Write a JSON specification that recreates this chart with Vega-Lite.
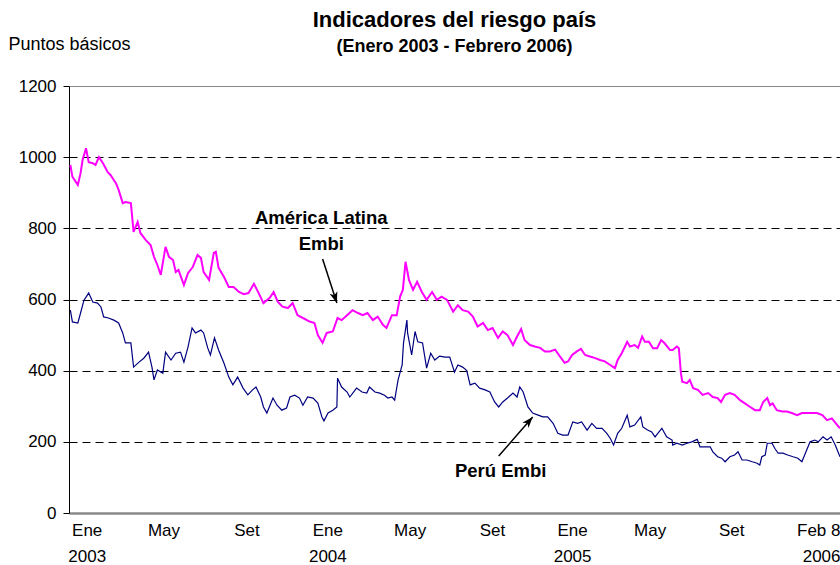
{
  "$schema": "https://vega.github.io/schema/vega-lite/v6.json",
  "width": 771,
  "height": 427,
  "autosize": {"type": "none"},
  "padding": {"left": 69, "top": 86, "right": 0, "bottom": 52},
  "background": "white",
  "config": {
    "view": {"stroke": null},
    "font": "Liberation Sans",
    "axis": {"labelFont": "Liberation Sans", "labelFontSize": 17, "labelColor": "black", "titleFont": "Liberation Sans"}
  },
  "title": {
    "text": "Indicadores del riesgo país",
    "subtitle": "(Enero 2003 - Febrero 2006)",
    "anchor": "middle",
    "font": "Liberation Sans",
    "fontSize": 22,
    "fontWeight": "bold",
    "color": "black",
    "subtitleFont": "Liberation Sans",
    "subtitleFontSize": 18,
    "subtitleFontWeight": "bold",
    "subtitleColor": "black",
    "subtitlePadding": 6,
    "offset": -22
  },
  "datasets": {
    "latam": [
      {"fecha": "2003-01-03", "pb": 978}, {"fecha": "2003-01-06", "pb": 945}, {"fecha": "2003-01-14", "pb": 922},
      {"fecha": "2003-01-18", "pb": 955}, {"fecha": "2003-01-21", "pb": 992}, {"fecha": "2003-01-26", "pb": 1025},
      {"fecha": "2003-01-30", "pb": 986}, {"fecha": "2003-02-05", "pb": 983}, {"fecha": "2003-02-09", "pb": 978},
      {"fecha": "2003-02-14", "pb": 1000}, {"fecha": "2003-02-20", "pb": 983}, {"fecha": "2003-02-27", "pb": 958},
      {"fecha": "2003-03-03", "pb": 950}, {"fecha": "2003-03-11", "pb": 927}, {"fecha": "2003-03-15", "pb": 908},
      {"fecha": "2003-03-21", "pb": 871}, {"fecha": "2003-03-25", "pb": 874}, {"fecha": "2003-04-02", "pb": 871},
      {"fecha": "2003-04-06", "pb": 790}, {"fecha": "2003-04-12", "pb": 818}, {"fecha": "2003-04-16", "pb": 787},
      {"fecha": "2003-04-24", "pb": 767}, {"fecha": "2003-05-01", "pb": 753}, {"fecha": "2003-05-06", "pb": 720},
      {"fecha": "2003-05-11", "pb": 697}, {"fecha": "2003-05-16", "pb": 669}, {"fecha": "2003-05-23", "pb": 748},
      {"fecha": "2003-05-28", "pb": 720}, {"fecha": "2003-06-03", "pb": 711}, {"fecha": "2003-06-07", "pb": 677},
      {"fecha": "2003-06-11", "pb": 683}, {"fecha": "2003-06-19", "pb": 641}, {"fecha": "2003-06-25", "pb": 674},
      {"fecha": "2003-07-02", "pb": 691}, {"fecha": "2003-07-09", "pb": 725}, {"fecha": "2003-07-14", "pb": 717},
      {"fecha": "2003-07-18", "pb": 677}, {"fecha": "2003-07-26", "pb": 655}, {"fecha": "2003-08-02", "pb": 731},
      {"fecha": "2003-08-05", "pb": 734}, {"fecha": "2003-08-09", "pb": 689}, {"fecha": "2003-08-17", "pb": 663},
      {"fecha": "2003-08-24", "pb": 635}, {"fecha": "2003-08-31", "pb": 635}, {"fecha": "2003-09-08", "pb": 621},
      {"fecha": "2003-09-15", "pb": 615}, {"fecha": "2003-09-22", "pb": 618}, {"fecha": "2003-09-30", "pb": 644},
      {"fecha": "2003-10-07", "pb": 618}, {"fecha": "2003-10-14", "pb": 590}, {"fecha": "2003-10-23", "pb": 604},
      {"fecha": "2003-10-29", "pb": 621}, {"fecha": "2003-11-04", "pb": 594}, {"fecha": "2003-11-11", "pb": 580},
      {"fecha": "2003-11-19", "pb": 576}, {"fecha": "2003-11-26", "pb": 590}, {"fecha": "2003-12-03", "pb": 556},
      {"fecha": "2003-12-11", "pb": 548}, {"fecha": "2003-12-21", "pb": 538}, {"fecha": "2003-12-28", "pb": 534},
      {"fecha": "2004-01-02", "pb": 500}, {"fecha": "2004-01-09", "pb": 478}, {"fecha": "2004-01-15", "pb": 506},
      {"fecha": "2004-01-24", "pb": 510}, {"fecha": "2004-01-31", "pb": 548}, {"fecha": "2004-02-06", "pb": 542},
      {"fecha": "2004-02-14", "pb": 556}, {"fecha": "2004-02-22", "pb": 570}, {"fecha": "2004-03-01", "pb": 562},
      {"fecha": "2004-03-08", "pb": 556}, {"fecha": "2004-03-15", "pb": 562}, {"fecha": "2004-03-23", "pb": 542},
      {"fecha": "2004-03-30", "pb": 552}, {"fecha": "2004-04-07", "pb": 528}, {"fecha": "2004-04-12", "pb": 520},
      {"fecha": "2004-04-20", "pb": 556}, {"fecha": "2004-04-27", "pb": 556}, {"fecha": "2004-05-02", "pb": 608},
      {"fecha": "2004-05-06", "pb": 627}, {"fecha": "2004-05-10", "pb": 706}, {"fecha": "2004-05-15", "pb": 655},
      {"fecha": "2004-05-21", "pb": 627}, {"fecha": "2004-05-27", "pb": 650}, {"fecha": "2004-06-03", "pb": 621},
      {"fecha": "2004-06-10", "pb": 599}, {"fecha": "2004-06-18", "pb": 621}, {"fecha": "2004-06-25", "pb": 599},
      {"fecha": "2004-07-02", "pb": 608}, {"fecha": "2004-07-10", "pb": 599}, {"fecha": "2004-07-19", "pb": 566},
      {"fecha": "2004-07-26", "pb": 584}, {"fecha": "2004-08-02", "pb": 570}, {"fecha": "2004-08-10", "pb": 566},
      {"fecha": "2004-08-17", "pb": 552}, {"fecha": "2004-08-24", "pb": 524}, {"fecha": "2004-09-01", "pb": 534},
      {"fecha": "2004-09-08", "pb": 514}, {"fecha": "2004-09-15", "pb": 520}, {"fecha": "2004-09-23", "pb": 492},
      {"fecha": "2004-09-30", "pb": 510}, {"fecha": "2004-10-07", "pb": 500}, {"fecha": "2004-10-15", "pb": 472},
      {"fecha": "2004-10-21", "pb": 496}, {"fecha": "2004-10-27", "pb": 517}, {"fecha": "2004-11-01", "pb": 486},
      {"fecha": "2004-11-09", "pb": 472}, {"fecha": "2004-11-16", "pb": 468}, {"fecha": "2004-11-24", "pb": 464},
      {"fecha": "2004-12-01", "pb": 454}, {"fecha": "2004-12-08", "pb": 454}, {"fecha": "2004-12-16", "pb": 459},
      {"fecha": "2004-12-23", "pb": 440}, {"fecha": "2004-12-30", "pb": 422}, {"fecha": "2005-01-04", "pb": 426},
      {"fecha": "2005-01-10", "pb": 444}, {"fecha": "2005-01-17", "pb": 454}, {"fecha": "2005-01-23", "pb": 461},
      {"fecha": "2005-01-29", "pb": 444}, {"fecha": "2005-02-05", "pb": 440}, {"fecha": "2005-02-12", "pb": 436},
      {"fecha": "2005-02-20", "pb": 430}, {"fecha": "2005-02-27", "pb": 426}, {"fecha": "2005-03-07", "pb": 416},
      {"fecha": "2005-03-14", "pb": 407}, {"fecha": "2005-03-18", "pb": 430}, {"fecha": "2005-03-24", "pb": 449},
      {"fecha": "2005-04-01", "pb": 481}, {"fecha": "2005-04-05", "pb": 468}, {"fecha": "2005-04-12", "pb": 472},
      {"fecha": "2005-04-17", "pb": 464}, {"fecha": "2005-04-23", "pb": 496}, {"fecha": "2005-04-27", "pb": 481},
      {"fecha": "2005-05-03", "pb": 481}, {"fecha": "2005-05-09", "pb": 463}, {"fecha": "2005-05-15", "pb": 463},
      {"fecha": "2005-05-21", "pb": 486}, {"fecha": "2005-05-26", "pb": 477}, {"fecha": "2005-06-03", "pb": 458},
      {"fecha": "2005-06-07", "pb": 458}, {"fecha": "2005-06-13", "pb": 468}, {"fecha": "2005-06-16", "pb": 463},
      {"fecha": "2005-06-19", "pb": 393}, {"fecha": "2005-06-21", "pb": 369}, {"fecha": "2005-06-28", "pb": 365},
      {"fecha": "2005-07-02", "pb": 374}, {"fecha": "2005-07-07", "pb": 351}, {"fecha": "2005-07-14", "pb": 346},
      {"fecha": "2005-07-21", "pb": 332}, {"fecha": "2005-07-29", "pb": 337}, {"fecha": "2005-08-05", "pb": 326},
      {"fecha": "2005-08-12", "pb": 323}, {"fecha": "2005-08-17", "pb": 312}, {"fecha": "2005-08-23", "pb": 332},
      {"fecha": "2005-08-30", "pb": 337}, {"fecha": "2005-09-06", "pb": 332}, {"fecha": "2005-09-14", "pb": 317},
      {"fecha": "2005-09-21", "pb": 308}, {"fecha": "2005-09-29", "pb": 298}, {"fecha": "2005-10-06", "pb": 289},
      {"fecha": "2005-10-13", "pb": 289}, {"fecha": "2005-10-18", "pb": 312}, {"fecha": "2005-10-24", "pb": 323},
      {"fecha": "2005-10-28", "pb": 303}, {"fecha": "2005-11-01", "pb": 308}, {"fecha": "2005-11-07", "pb": 289},
      {"fecha": "2005-11-15", "pb": 285}, {"fecha": "2005-11-22", "pb": 285}, {"fecha": "2005-11-29", "pb": 281},
      {"fecha": "2005-12-07", "pb": 275}, {"fecha": "2005-12-14", "pb": 281}, {"fecha": "2005-12-21", "pb": 281},
      {"fecha": "2005-12-29", "pb": 281}, {"fecha": "2006-01-05", "pb": 281}, {"fecha": "2006-01-13", "pb": 275},
      {"fecha": "2006-01-20", "pb": 261}, {"fecha": "2006-01-27", "pb": 266}, {"fecha": "2006-02-04", "pb": 247},
      {"fecha": "2006-02-08", "pb": 238}
    ],
    "peru": [
      {"fecha": "2003-01-03", "pb": 570}, {"fecha": "2003-01-06", "pb": 537}, {"fecha": "2003-01-14", "pb": 534},
      {"fecha": "2003-01-18", "pb": 562}, {"fecha": "2003-01-23", "pb": 598}, {"fecha": "2003-01-30", "pb": 618},
      {"fecha": "2003-02-05", "pb": 593}, {"fecha": "2003-02-12", "pb": 590}, {"fecha": "2003-02-17", "pb": 579},
      {"fecha": "2003-02-21", "pb": 551}, {"fecha": "2003-02-28", "pb": 548}, {"fecha": "2003-03-08", "pb": 542},
      {"fecha": "2003-03-15", "pb": 534}, {"fecha": "2003-03-21", "pb": 506}, {"fecha": "2003-03-25", "pb": 478},
      {"fecha": "2003-04-02", "pb": 478}, {"fecha": "2003-04-06", "pb": 410}, {"fecha": "2003-04-14", "pb": 424},
      {"fecha": "2003-04-21", "pb": 435}, {"fecha": "2003-04-28", "pb": 452}, {"fecha": "2003-05-03", "pb": 410},
      {"fecha": "2003-05-06", "pb": 374}, {"fecha": "2003-05-11", "pb": 402}, {"fecha": "2003-05-19", "pb": 393},
      {"fecha": "2003-05-23", "pb": 452}, {"fecha": "2003-05-31", "pb": 430}, {"fecha": "2003-06-07", "pb": 449},
      {"fecha": "2003-06-14", "pb": 452}, {"fecha": "2003-06-19", "pb": 424}, {"fecha": "2003-06-25", "pb": 466},
      {"fecha": "2003-07-01", "pb": 520}, {"fecha": "2003-07-06", "pb": 506}, {"fecha": "2003-07-14", "pb": 514},
      {"fecha": "2003-07-18", "pb": 506}, {"fecha": "2003-07-24", "pb": 464}, {"fecha": "2003-07-28", "pb": 444},
      {"fecha": "2003-08-03", "pb": 492}, {"fecha": "2003-08-09", "pb": 458}, {"fecha": "2003-08-17", "pb": 421},
      {"fecha": "2003-08-24", "pb": 382}, {"fecha": "2003-08-30", "pb": 360}, {"fecha": "2003-09-06", "pb": 382},
      {"fecha": "2003-09-14", "pb": 351}, {"fecha": "2003-09-21", "pb": 332}, {"fecha": "2003-09-28", "pb": 346},
      {"fecha": "2003-10-03", "pb": 354}, {"fecha": "2003-10-10", "pb": 326}, {"fecha": "2003-10-14", "pb": 298},
      {"fecha": "2003-10-19", "pb": 281}, {"fecha": "2003-10-28", "pb": 323}, {"fecha": "2003-11-03", "pb": 303},
      {"fecha": "2003-11-10", "pb": 289}, {"fecha": "2003-11-17", "pb": 295}, {"fecha": "2003-11-22", "pb": 326},
      {"fecha": "2003-11-29", "pb": 331}, {"fecha": "2003-12-06", "pb": 323}, {"fecha": "2003-12-11", "pb": 303},
      {"fecha": "2003-12-18", "pb": 326}, {"fecha": "2003-12-26", "pb": 323}, {"fecha": "2004-01-02", "pb": 309},
      {"fecha": "2004-01-08", "pb": 270}, {"fecha": "2004-01-11", "pb": 259}, {"fecha": "2004-01-17", "pb": 281},
      {"fecha": "2004-01-24", "pb": 289}, {"fecha": "2004-01-30", "pb": 298}, {"fecha": "2004-01-31", "pb": 379},
      {"fecha": "2004-02-06", "pb": 354}, {"fecha": "2004-02-14", "pb": 340}, {"fecha": "2004-02-18", "pb": 326},
      {"fecha": "2004-02-28", "pb": 351}, {"fecha": "2004-03-07", "pb": 340}, {"fecha": "2004-03-14", "pb": 337},
      {"fecha": "2004-03-18", "pb": 354}, {"fecha": "2004-03-26", "pb": 340}, {"fecha": "2004-04-02", "pb": 337},
      {"fecha": "2004-04-09", "pb": 331}, {"fecha": "2004-04-14", "pb": 323}, {"fecha": "2004-04-20", "pb": 326},
      {"fecha": "2004-04-24", "pb": 317}, {"fecha": "2004-04-29", "pb": 374}, {"fecha": "2004-05-05", "pb": 416},
      {"fecha": "2004-05-07", "pb": 478}, {"fecha": "2004-05-12", "pb": 542}, {"fecha": "2004-05-13", "pb": 506},
      {"fecha": "2004-05-19", "pb": 444}, {"fecha": "2004-05-24", "pb": 510}, {"fecha": "2004-05-28", "pb": 481},
      {"fecha": "2004-06-04", "pb": 478}, {"fecha": "2004-06-10", "pb": 407}, {"fecha": "2004-06-16", "pb": 449},
      {"fecha": "2004-06-22", "pb": 430}, {"fecha": "2004-06-29", "pb": 441}, {"fecha": "2004-07-07", "pb": 438},
      {"fecha": "2004-07-14", "pb": 438}, {"fecha": "2004-07-21", "pb": 396}, {"fecha": "2004-07-26", "pb": 416},
      {"fecha": "2004-08-02", "pb": 410}, {"fecha": "2004-08-08", "pb": 400}, {"fecha": "2004-08-13", "pb": 360},
      {"fecha": "2004-08-20", "pb": 365}, {"fecha": "2004-08-27", "pb": 351}, {"fecha": "2004-09-04", "pb": 346},
      {"fecha": "2004-09-11", "pb": 340}, {"fecha": "2004-09-18", "pb": 312}, {"fecha": "2004-09-24", "pb": 298},
      {"fecha": "2004-09-30", "pb": 312}, {"fecha": "2004-10-07", "pb": 323}, {"fecha": "2004-10-15", "pb": 337},
      {"fecha": "2004-10-21", "pb": 326}, {"fecha": "2004-10-25", "pb": 354}, {"fecha": "2004-10-30", "pb": 340},
      {"fecha": "2004-11-06", "pb": 298}, {"fecha": "2004-11-13", "pb": 281}, {"fecha": "2004-11-21", "pb": 275},
      {"fecha": "2004-11-28", "pb": 270}, {"fecha": "2004-12-05", "pb": 270}, {"fecha": "2004-12-13", "pb": 252},
      {"fecha": "2004-12-20", "pb": 224}, {"fecha": "2004-12-27", "pb": 219}, {"fecha": "2005-01-04", "pb": 219},
      {"fecha": "2005-01-11", "pb": 256}, {"fecha": "2005-01-18", "pb": 252}, {"fecha": "2005-01-24", "pb": 256},
      {"fecha": "2005-02-01", "pb": 233}, {"fecha": "2005-02-08", "pb": 252}, {"fecha": "2005-02-15", "pb": 238},
      {"fecha": "2005-02-23", "pb": 238}, {"fecha": "2005-03-02", "pb": 224}, {"fecha": "2005-03-07", "pb": 210},
      {"fecha": "2005-03-12", "pb": 191}, {"fecha": "2005-03-18", "pb": 224}, {"fecha": "2005-03-24", "pb": 238},
      {"fecha": "2005-04-01", "pb": 275}, {"fecha": "2005-04-05", "pb": 242}, {"fecha": "2005-04-12", "pb": 247},
      {"fecha": "2005-04-21", "pb": 270}, {"fecha": "2005-04-24", "pb": 242}, {"fecha": "2005-05-01", "pb": 233},
      {"fecha": "2005-05-07", "pb": 228}, {"fecha": "2005-05-12", "pb": 214}, {"fecha": "2005-05-16", "pb": 224},
      {"fecha": "2005-05-22", "pb": 238}, {"fecha": "2005-05-29", "pb": 214}, {"fecha": "2005-06-06", "pb": 205},
      {"fecha": "2005-06-07", "pb": 191}, {"fecha": "2005-06-13", "pb": 196}, {"fecha": "2005-06-21", "pb": 191},
      {"fecha": "2005-06-28", "pb": 196}, {"fecha": "2005-07-05", "pb": 200}, {"fecha": "2005-07-13", "pb": 207},
      {"fecha": "2005-07-17", "pb": 186}, {"fecha": "2005-07-24", "pb": 186}, {"fecha": "2005-08-01", "pb": 186},
      {"fecha": "2005-08-05", "pb": 172}, {"fecha": "2005-08-12", "pb": 158}, {"fecha": "2005-08-18", "pb": 154},
      {"fecha": "2005-08-23", "pb": 144}, {"fecha": "2005-08-30", "pb": 158}, {"fecha": "2005-09-06", "pb": 163},
      {"fecha": "2005-09-11", "pb": 172}, {"fecha": "2005-09-17", "pb": 149}, {"fecha": "2005-09-24", "pb": 149},
      {"fecha": "2005-10-02", "pb": 144}, {"fecha": "2005-10-09", "pb": 140}, {"fecha": "2005-10-13", "pb": 135},
      {"fecha": "2005-10-16", "pb": 158}, {"fecha": "2005-10-21", "pb": 163}, {"fecha": "2005-10-24", "pb": 196},
      {"fecha": "2005-10-31", "pb": 196}, {"fecha": "2005-11-04", "pb": 182}, {"fecha": "2005-11-09", "pb": 168},
      {"fecha": "2005-11-16", "pb": 168}, {"fecha": "2005-11-23", "pb": 163}, {"fecha": "2005-12-01", "pb": 158},
      {"fecha": "2005-12-08", "pb": 154}, {"fecha": "2005-12-14", "pb": 144}, {"fecha": "2005-12-18", "pb": 163},
      {"fecha": "2005-12-26", "pb": 200}, {"fecha": "2006-01-02", "pb": 205}, {"fecha": "2006-01-07", "pb": 200},
      {"fecha": "2006-01-14", "pb": 214}, {"fecha": "2006-01-20", "pb": 205}, {"fecha": "2006-01-26", "pb": 214},
      {"fecha": "2006-02-01", "pb": 191}, {"fecha": "2006-02-05", "pb": 172}, {"fecha": "2006-02-08", "pb": 158}
    ],
    "etiquetas": [
      {"fecha": "2004-01-07", "pb": 812, "texto": "América Latina"},
      {"fecha": "2004-01-07", "pb": 739, "texto": "Embi"},
      {"fecha": "2004-09-27", "pb": 101, "texto": "Perú Embi"}
    ],
    "flechas": [
      {"serie": "latam", "fecha": "2004-01-09", "pb": 714, "fecha2": "2004-01-30", "pb2": 590},
      {"serie": "peru", "fecha": "2004-09-24", "pb": 160, "fecha2": "2004-11-13", "pb2": 270}
    ]
  },
  "layer": [
    {
      "data": {"name": "latam"},
      "mark": {"type": "line", "color": "#FF00FF", "strokeWidth": 2},
      "encoding": {
        "x": {
          "field": "fecha",
          "type": "temporal",
          "scale": {"domain": [{"year": 2003, "month": 1, "date": 1, "utc": true}, {"year": 2006, "month": 2, "date": 8, "utc": true}]},
          "axis": {
            "title": null,
            "values": [
              {"year": 2003, "month": 1, "date": 27, "utc": true},
              {"year": 2003, "month": 5, "date": 20, "utc": true},
              {"year": 2003, "month": 9, "date": 19, "utc": true},
              {"year": 2004, "month": 1, "date": 16, "utc": true},
              {"year": 2004, "month": 5, "date": 16, "utc": true},
              {"year": 2004, "month": 9, "date": 14, "utc": true},
              {"year": 2005, "month": 1, "date": 10, "utc": true},
              {"year": 2005, "month": 5, "date": 4, "utc": true},
              {"year": 2005, "month": 9, "date": 1, "utc": true},
              {"year": 2006, "month": 2, "date": 8, "utc": true}
            ],
            "labelExpr": "utcyear(datum.value) == 2006 ? ['Feb 8', '2006'] : utcmonth(datum.value) == 0 ? ['Ene', '' + utcyear(datum.value)] : utcmonth(datum.value) == 4 ? 'May' : 'Set'",
            "labelAlign": {"condition": {"test": "utcyear(datum.value) == 2006", "value": "right"}, "value": "center"},
            "labelBaseline": "top",
            "labelPadding": 9,
            "labelLineHeight": 26,
            "labelFlush": false,
            "labelOverlap": false,
            "ticks": false,
            "grid": false,
            "domainColor": "#8a8a8a",
            "domainWidth": 2.5
          }
        },
        "y": {
          "field": "pb",
          "type": "quantitative",
          "scale": {"domain": [0, 1200], "nice": false},
          "axis": {
            "title": "Puntos básicos",
            "titleAngle": 0,
            "titleAlign": "left",
            "titleBaseline": "alphabetic",
            "titleX": -61,
            "titleY": -37,
            "titleFontSize": 18,
            "titleFontWeight": "normal",
            "titleColor": "black",
            "values": [0, 200, 400, 600, 800, 1000, 1200],
            "format": "d",
            "labelPadding": 7,
            "tickSize": 6,
            "tickColor": "black",
            "domainColor": "black",
            "domainWidth": 1,
            "grid": true,
            "gridColor": {"condition": {"test": "datum.value === 1200", "value": "#8a8a8a"}, "value": "black"},
            "gridDash": {"condition": {"test": "datum.value === 1200", "value": []}, "value": [8, 5]},
            "gridOpacity": {"condition": {"test": "datum.value === 0", "value": 0}, "value": 1},
            "gridWidth": 1
          }
        }
      }
    },
    {
      "data": {"name": "peru"},
      "mark": {"type": "line", "color": "#000080", "strokeWidth": 1.2},
      "encoding": {
        "x": {"field": "fecha", "type": "temporal"},
        "y": {"field": "pb", "type": "quantitative"}
      }
    },
    {
      "data": {"name": "etiquetas"},
      "mark": {"type": "text", "font": "Liberation Sans", "fontSize": 18.5, "fontWeight": "bold", "color": "black", "align": "center", "baseline": "alphabetic"},
      "encoding": {
        "x": {"field": "fecha", "type": "temporal"},
        "y": {"field": "pb", "type": "quantitative"},
        "text": {"field": "texto"}
      }
    },
    {
      "data": {"name": "flechas"},
      "mark": {"type": "rule", "color": "black", "strokeWidth": 1.5},
      "encoding": {
        "x": {"field": "fecha", "type": "temporal"},
        "y": {"field": "pb", "type": "quantitative"},
        "x2": {"field": "fecha2"},
        "y2": {"field": "pb2"}
      }
    },
    {
      "data": {"name": "flechas"},
      "transform": [{"filter": "datum.serie == 'latam'"}],
      "mark": {"type": "point", "shape": "M0,0L0.55,1.5L0,1.1L-0.55,1.5Z", "filled": true, "color": "black", "opacity": 1, "size": 220, "angle": 162},
      "encoding": {
        "x": {"field": "fecha2", "type": "temporal"},
        "y": {"field": "pb2", "type": "quantitative"}
      }
    },
    {
      "data": {"name": "flechas"},
      "transform": [{"filter": "datum.serie == 'peru'"}],
      "mark": {"type": "point", "shape": "M0,0L0.55,1.5L0,1.1L-0.55,1.5Z", "filled": true, "color": "black", "opacity": 1, "size": 220, "angle": 41},
      "encoding": {
        "x": {"field": "fecha2", "type": "temporal"},
        "y": {"field": "pb2", "type": "quantitative"}
      }
    }
  ]
}
